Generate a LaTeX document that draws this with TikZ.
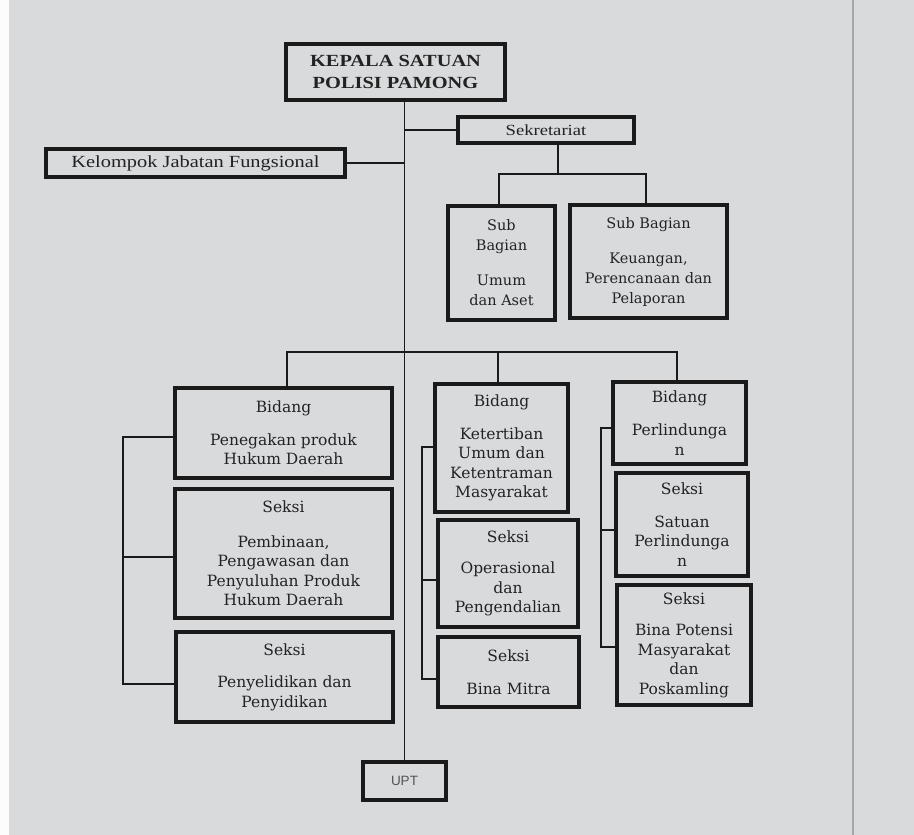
\documentclass[tikz,border=0pt]{standalone}
\usepackage{fontspec}
\newfontfamily\tfont[FakeStretch=1.2]{Liberation Serif}
\newfontfamily\dfont{DejaVu Serif}
\newfontfamily\ufont{Liberation Sans}
\definecolor{paper}{HTML}{D9DADC}
\definecolor{linec}{HTML}{1A1A1A}
\definecolor{textc}{HTML}{222222}
\begin{document}
\begin{tikzpicture}[x=1pt,y=-1pt,
  box/.style={draw=linec, line width=3.1pt, inner sep=0pt, align=center, text=textc},
  topf/.style={font=\dfont\fontsize{14.5}{20}\selectfont},
  lowf/.style={font=\dfont\fontsize{15.5}{19.5}\selectfont},
  conn/.style={draw=linec, line width=1.4pt}]
\useasboundingbox (0,0) rectangle (914,835);
\fill[paper] (0,0) rectangle (914,835);
\fill[white!92!paper] (0,0) rectangle (9,835);
\draw[gray!70, line width=2pt] (853,0) -- (853,835);
% top boxes
\node[box, minimum width=219pt, minimum height=56pt, font=\tfont\bfseries\fontsize{17}{22}\selectfont] (kepala) at (395.5,72) {KEPALA SATUAN\\POLISI PAMONG};
\node[box, minimum width=176pt, minimum height=26pt, font=\tfont\fontsize{15.5}{18}\selectfont] (sekr) at (546,130) {Sekretariat};
\node[box, minimum width=299pt, minimum height=28pt, font=\tfont\fontsize{17}{20}\selectfont] (kel) at (195.5,163) {Kelompok Jabatan Fungsional};
\node[box, topf, minimum width=107pt, minimum height=114pt] (sb1) at (501.5,263) {Sub\\Bagian\\[15pt]Umum\\dan Aset};
\node[box, topf, minimum width=157pt, minimum height=113pt] (sb2) at (648.5,261.5) {Sub Bagian\\[15pt]Keuangan,\\Perencanaan dan\\Pelaporan};
% left column
\node[box, lowf, minimum width=217pt, minimum height=90pt] (bid1) at (283.5,433) {Bidang\\[13pt]Penegakan produk\\Hukum Daerah};
\node[box, lowf, minimum width=217pt, minimum height=129pt] (sek11) at (283.5,553.5) {Seksi\\[15pt]Pembinaan,\\Pengawasan dan\\Penyuluhan Produk\\Hukum Daerah};
\node[box, lowf, minimum width=217pt, minimum height=90pt] (sek12) at (284.5,677) {Seksi\\[13pt]Penyelidikan dan\\Penyidikan};
% middle column
\node[box, lowf, minimum width=133pt, minimum height=128pt] (bid2) at (501.5,448) {Bidang\\[13pt]Ketertiban\\Umum dan\\Ketentraman\\Masyarakat};
\node[box, lowf, minimum width=140pt, minimum height=107pt] (sek21) at (508,573.5) {Seksi\\[12pt]Operasional\\dan\\Pengendalian};
\node[box, lowf, minimum width=141pt, minimum height=70pt] (sek22) at (508.5,672) {Seksi\\[13pt]Bina Mitra};
% right column
\node[box, lowf, minimum width=133pt, minimum height=82pt] (bid3) at (679.5,423) {Bidang\\[14pt]Perlindunga\\n};
\node[box, lowf, minimum width=132pt, minimum height=103pt] (sek31) at (682,524.5) {Seksi\\[13pt]Satuan\\Perlindunga\\n};
\node[box, lowf, minimum width=134pt, minimum height=120pt] (sek32) at (684,645) {Seksi\\[12pt]Bina Potensi\\Masyarakat\\dan\\Poskamling};
% UPT
\node[box, minimum width=83pt, minimum height=38pt, font=\ufont\fontsize{13.5}{15}\selectfont, text=gray!65!black] (upt) at (404.5,781) {UPT};
% connectors
\draw[conn] (upt.north |- kepala.south) -- (upt.north);
\draw[conn] (sekr.west) -- (sekr.west -| upt.north);
\draw[conn] (kel.east) -- (kel.east -| upt.north);
% sekretariat to sub bagian
\coordinate (sj) at (558,174);
\coordinate (s1) at (499,174);
\coordinate (s2) at (646,174);
\draw[conn] (sekr.south -| sj) -- (sj);
\draw[conn] (s1 |- sb1.north) -- (s1) -- (s2) -- (s2 |- sb2.north);
% bidang bar
\coordinate (b1) at (287,352);
\coordinate (b2) at (498,352);
\coordinate (b3) at (677,352);
\draw[conn] (b1 |- bid1.north) -- (b1) -- (b3) -- (b3 |- bid3.north);
\draw[conn] (b2) -- (b2 |- bid2.north);
% left bracket
\coordinate (l1) at (123,437);
\coordinate (l2) at (123,557);
\coordinate (l3) at (123,684);
\draw[conn] (l1 -| bid1.west) -- (l1) -- (l3) -- (l3 -| sek12.west);
\draw[conn] (l2) -- (l2 -| sek11.west);
% middle bracket
\coordinate (m1) at (422,447);
\coordinate (m2) at (422,580);
\coordinate (m3) at (422,679);
\draw[conn] (m1 -| bid2.west) -- (m1) -- (m3) -- (m3 -| sek22.west);
\draw[conn] (m2) -- (m2 -| sek21.west);
% right bracket
\coordinate (r1) at (601,428);
\coordinate (r2) at (601,530);
\coordinate (r3) at (601,647);
\draw[conn] (r1 -| bid3.west) -- (r1) -- (r3) -- (r3 -| sek32.west);
\draw[conn] (r2) -- (r2 -| sek31.west);
\end{tikzpicture}
\end{document}
